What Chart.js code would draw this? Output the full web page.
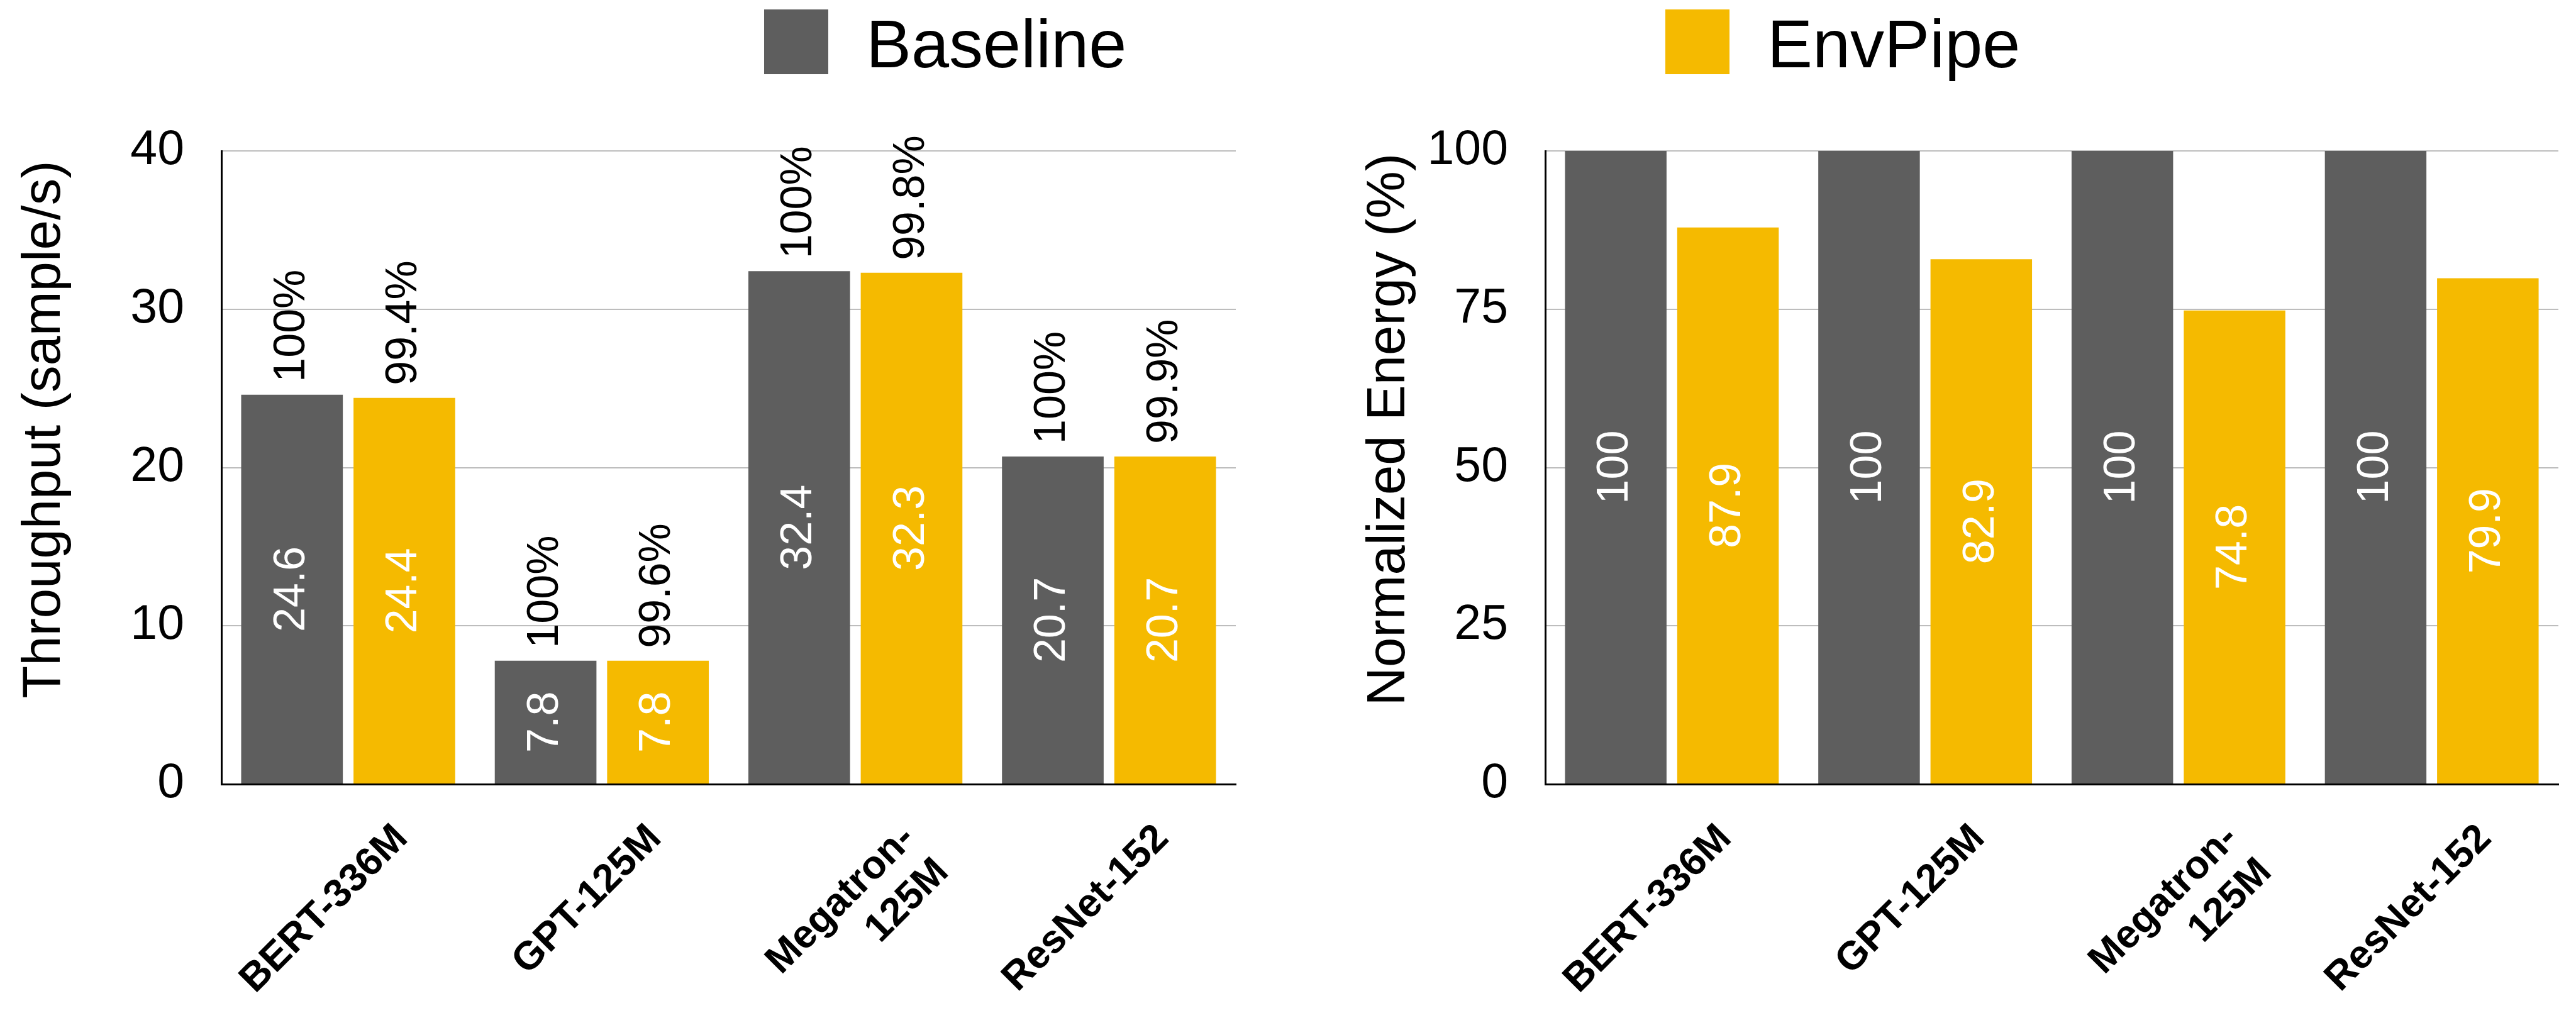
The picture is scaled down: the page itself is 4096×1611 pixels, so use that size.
<!DOCTYPE html>
<html lang="en">
<head>
    <meta charset="UTF-8">
    <title>Throughput and Energy: Baseline vs EnvPipe</title>
    <script src="https://cdn.jsdelivr.net/npm/chart.js"></script>
    <style>
        body {
            margin: 0;
            background: #fff;
            font-family: "Liberation Sans", Arial, Helvetica, sans-serif;
        }
        .page {
            position: relative;
            width: 4096px;
            height: 1611px;
            overflow: hidden;
        }
        .swatch {
            position: absolute;
            top: 15px;
            width: 102px;
            height: 103px;
        }
        .legend-text {
            position: absolute;
            top: 16px;
            font-size: 108px;
            line-height: 1;
            color: #000;
        }
        canvas {
            position: absolute;
            top: 0;
        }
    </style>
</head>
<body>
<div class="page">
    <!-- shared legend -->
    <div class="swatch" style="left:1215px; background:#5e5e5e;"></div>
    <span class="legend-text" style="left:1377px;">Baseline</span>
    <div class="swatch" style="left:2648px; background:#f5ba00;"></div>
    <span class="legend-text" style="left:2810px;">EnvPipe</span>

    <canvas id="throughputChart" width="2040" height="1611" style="left:0;"></canvas>
    <canvas id="energyChart" width="2056" height="1611" style="left:2040px;"></canvas>
</div>

<script>
    const models = ['BERT-336M', 'GPT-125M', ['Megatron-', '125M'], 'ResNet-152'];

    const throughputBaseline = [24.6, 7.8, 32.4, 20.7];
    const throughputEnvPipe = [24.4, 7.8, 32.3, 20.7];
    const throughputPctBaseline = ['100%', '100%', '100%', '100%'];
    const throughputPctEnvPipe = ['99.4%', '99.6%', '99.8%', '99.9%'];

    const energyBaseline = [100, 100, 100, 100];
    const energyEnvPipe = [87.9, 82.9, 74.8, 79.9];

    const GRAY = '#5e5e5e';
    const YELLOW = '#f5ba00';
    const FONT = '"Liberation Sans", Arial, Helvetica, sans-serif';

    Chart.defaults.font.family = FONT;
    Chart.defaults.color = '#000';

    // value inside each bar, plus optional percentage on top (both rotated)
    const barLabels = {
        id: 'barLabels',
        afterDatasetsDraw(chart) {
            const ctx = chart.ctx;
            chart.data.datasets.forEach((ds, di) => {
                const meta = chart.getDatasetMeta(di);
                meta.data.forEach((bar, i) => {
                    ctx.save();
                    ctx.font = '70px ' + FONT;
                    ctx.fillStyle = '#fff';
                    ctx.textAlign = 'center';
                    ctx.textBaseline = 'middle';
                    ctx.translate(bar.x, (bar.y + bar.base) / 2);
                    ctx.rotate(-Math.PI / 2);
                    ctx.fillText(String(ds.data[i]), 0, 0);
                    ctx.restore();

                    if (ds.pctLabels) {
                        ctx.save();
                        ctx.font = '70px ' + FONT;
                        ctx.fillStyle = '#000';
                        ctx.textAlign = 'left';
                        ctx.textBaseline = 'middle';
                        ctx.translate(bar.x, bar.y - 20);
                        ctx.rotate(-Math.PI / 2);
                        ctx.fillText(ds.pctLabels[i], 0, 0);
                        ctx.restore();
                    }
                });
            });
        }
    };

    // vertical axis title, sitting a bit above the plot's middle
    const axisTitle = {
        id: 'axisTitle',
        afterDraw(chart, args, opts) {
            const ctx = chart.ctx;
            const area = chart.chartArea;
            ctx.save();
            ctx.font = '85px ' + FONT;
            ctx.fillStyle = '#000';
            ctx.textAlign = 'center';
            ctx.textBaseline = 'alphabetic';
            ctx.translate(opts.x, area.top + (area.bottom - area.top) * 0.44);
            ctx.rotate(-Math.PI / 2);
            ctx.fillText(opts.text, 0, 0);
            ctx.restore();
        }
    };

    function makeOptions(yMax, yStep, yWidth, padRight, title, titleX) {
        return {
            responsive: false,
            devicePixelRatio: 1,
            animation: false,
            layout: { padding: { left: 0, right: padRight, top: 240, bottom: 0 } },
            plugins: {
                legend: { display: false },
                tooltip: { enabled: false },
                axisTitle: { text: title, x: titleX }
            },
            scales: {
                x: {
                    offset: true,
                    grid: { display: false, drawTicks: false },
                    border: { display: true, color: '#000', width: 3 },
                    ticks: {
                        minRotation: 45,
                        maxRotation: 45,
                        labelOffset: 85,
                        padding: 50,
                        font: { size: 63, weight: 'bold' },
                        color: '#000'
                    },
                    afterFit(scale) { scale.height = 364; }
                },
                y: {
                    min: 0,
                    max: yMax,
                    grid: {
                        drawTicks: false,
                        lineWidth: 2,
                        color: (c) => c.tick && c.tick.value === 0 ? 'rgba(0,0,0,0)' : '#bdbdbd'
                    },
                    border: { display: true, color: '#000', width: 3 },
                    ticks: {
                        stepSize: yStep,
                        padding: 59,
                        font: { size: 77 },
                        color: '#000'
                    },
                    afterFit(scale) { scale.width = yWidth; }
                }
            }
        };
    }

    const barStyle = { categoryPercentage: 0.886, barPercentage: 0.905, borderWidth: 0 };

    new Chart(document.getElementById('throughputChart'), {
        type: 'bar',
        data: {
            labels: models,
            datasets: [
                Object.assign({ label: 'Baseline', data: throughputBaseline, backgroundColor: GRAY, pctLabels: throughputPctBaseline }, barStyle),
                Object.assign({ label: 'EnvPipe', data: throughputEnvPipe, backgroundColor: YELLOW, pctLabels: throughputPctEnvPipe }, barStyle)
            ]
        },
        options: makeOptions(40, 10, 352, 75, 'Throughput (sample/s)', 95),
        plugins: [barLabels, axisTitle]
    });

    new Chart(document.getElementById('energyChart'), {
        type: 'bar',
        data: {
            labels: models,
            datasets: [
                Object.assign({ label: 'Baseline', data: energyBaseline, backgroundColor: GRAY }, barStyle),
                Object.assign({ label: 'EnvPipe', data: energyEnvPipe, backgroundColor: YELLOW }, barStyle)
            ]
        },
        options: makeOptions(100, 25, 417, 28, 'Normalized Energy (%)', 193),
        plugins: [barLabels, axisTitle]
    });
</script>
</body>
</html>
